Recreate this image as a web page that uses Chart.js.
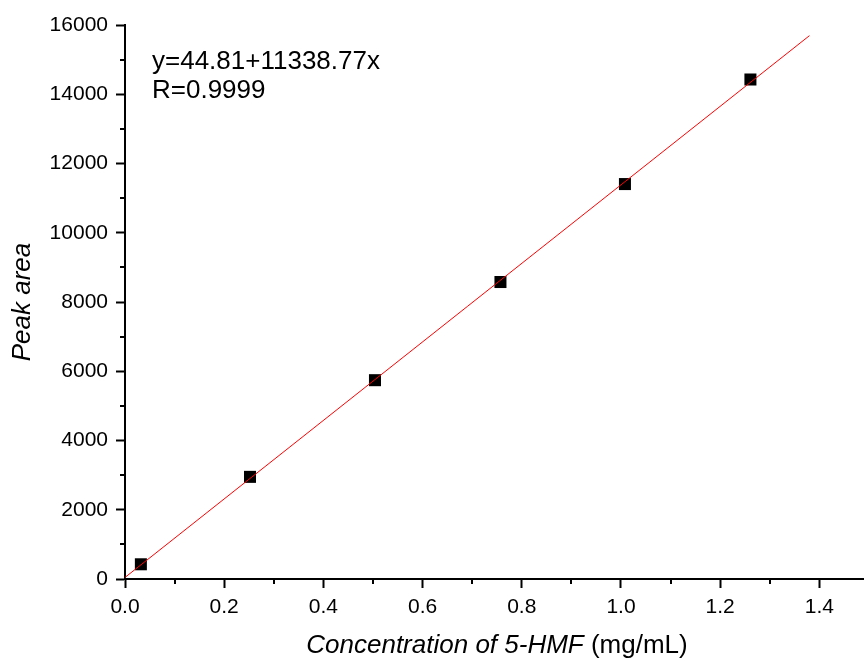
<!DOCTYPE html>
<html>
<head>
<meta charset="utf-8">
<script src="https://cdn.jsdelivr.net/npm/chart.js@4/dist/chart.umd.min.js"></script>
<style>
  html, body { margin: 0; padding: 0; background: #fff; }
  #wrap { width: 864px; height: 661px; position: relative; }
</style>
</head>
<body>
<div id="wrap"><canvas id="calChart"></canvas></div>
<script>
// standard points
const concentration = [0.032, 0.252, 0.504, 0.757, 1.008, 1.261];
const peakArea = [425, 2950, 5742, 8577, 11406, 14426];
// fitted line ends (y = 44.81 + 11338.77x)
const fitX = [0, 1.38];
const fitY = [44.81, 15692];
const xMinor = [0.1, 0.3, 0.5, 0.7, 0.9, 1.1, 1.3];
const yMinor = [1000, 3000, 5000, 7000, 9000, 11000, 13000, 15000];
const equationText = ['y=44.81+11338.77x', 'R=0.9999'];

const FONT = "'Liberation Sans', Arial, sans-serif";

const extras = {
    id: 'extras',
    afterDraw(chart) {
        const ctx = chart.ctx;
        const xs = chart.scales.x, ys = chart.scales.y;
        const area = chart.chartArea;
        ctx.save();
        ctx.strokeStyle = '#000';
        ctx.lineWidth = 2;
        ctx.beginPath();
        xMinor.forEach(v => {
            const px = Math.round(xs.getPixelForValue(v));
            ctx.moveTo(px, area.bottom);
            ctx.lineTo(px, area.bottom + 5);
        });
        yMinor.forEach(v => {
            const py = Math.round(ys.getPixelForValue(v));
            ctx.moveTo(area.left, py);
            ctx.lineTo(area.left - 5, py);
        });
        ctx.stroke();

        // equation text
        ctx.fillStyle = '#000';
        ctx.font = '26px ' + FONT;
        ctx.textAlign = 'left';
        ctx.textBaseline = 'alphabetic';
        ctx.fillText(equationText[0], 152, 69);
        ctx.fillText(equationText[1], 152, 98);

        // x title, italic part + normal unit
        const part1 = 'Concentration of 5-HMF';
        const part2 = ' (mg/mL)';
        ctx.font = 'italic 26px ' + FONT;
        const w1 = ctx.measureText(part1).width;
        ctx.font = '26px ' + FONT;
        const w2 = ctx.measureText(part2).width;
        let sx = 497 - (w1 + w2) / 2;
        ctx.font = 'italic 26px ' + FONT;
        ctx.fillText(part1, sx, 653);
        ctx.font = '26px ' + FONT;
        ctx.fillText(part2, sx + w1, 653);
        ctx.restore();
    }
};

new Chart(document.getElementById('calChart'), {
    type: 'scatter',
    data: {
        datasets: [
            {
                label: 'Fit',
                data: fitX.map((x, i) => ({x: x, y: fitY[i]})),
                showLine: true,
                borderColor: '#ff0000',
                borderWidth: 1,
                pointRadius: 0,
                fill: false
            },
            {
                label: 'Peak area',
                data: concentration.map((x, i) => ({x: x, y: peakArea[i]})),
                pointStyle: 'rect',
                pointRadius: 8.5,
                pointBorderWidth: 0,
                backgroundColor: '#000',
                borderColor: '#000'
            }
        ]
    },
    options: {
        responsive: true,
        maintainAspectRatio: false,
        animation: false,
        devicePixelRatio: 1,
        layout: { autoPadding: false, padding: { top: 25, right: 0, left: 0, bottom: 0 } },
        plugins: {
            legend: { display: false },
            tooltip: { enabled: false }
        },
        scales: {
            x: {
                type: 'linear',
                min: 0,
                max: 1.49,
                afterFit: s => { s.height = 82; },
                ticks: {
                    stepSize: 0.2,
                    includeBounds: false,
                    color: '#000',
                    padding: 7,
                    maxRotation: 0,
                    font: { family: FONT, size: 21 },
                    callback: v => v.toFixed(1)
                },
                grid: {
                    drawOnChartArea: false,
                    tickLength: 9,
                    tickWidth: 2,
                    tickColor: '#000'
                },
                border: { display: true, color: '#000', width: 2 }
            },
            y: {
                type: 'linear',
                min: 0,
                max: 16000,
                afterFit: s => { s.width = 125; },
                ticks: {
                    stepSize: 2000,
                    color: '#000',
                    padding: 8,
                    font: { family: FONT, size: 21 },
                    callback: v => String(v)
                },
                grid: {
                    drawOnChartArea: false,
                    tickLength: 9,
                    tickWidth: 2,
                    tickColor: '#000'
                },
                border: { display: true, color: '#000', width: 2 },
                title: {
                    display: true,
                    text: 'Peak area',
                    color: '#000',
                    padding: { top: 7, bottom: 0 },
                    font: { family: FONT, size: 26, style: 'italic', lineHeight: 1.2 }
                }
            }
        }
    },
    plugins: [extras]
});
</script>
</body>
</html>
